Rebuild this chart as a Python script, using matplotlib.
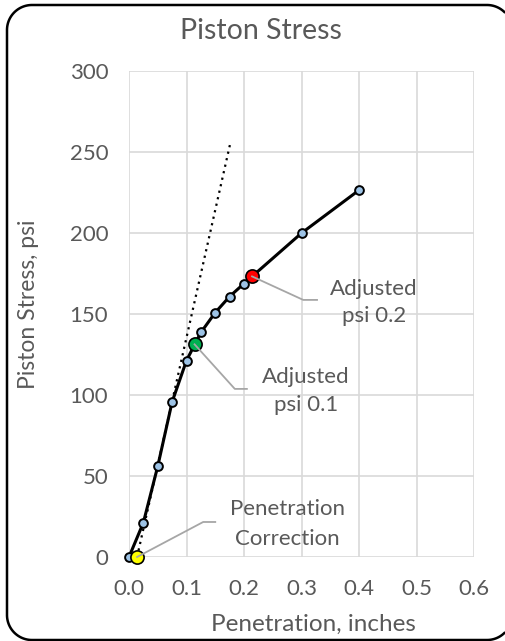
import matplotlib
matplotlib.use("Agg")
import numpy as np
import matplotlib.pyplot as plt
from matplotlib.lines import Line2D

plt.rcParams['font.family'] = ['Lato', 'DejaVu Sans']

# Penetration test readings
penetration = [0.0, 0.025, 0.05, 0.075, 0.1, 0.125, 0.15, 0.175, 0.2, 0.3, 0.4]
stress = [0.0, 21.2, 56.0, 95.7, 121.2, 138.5, 150.8, 160.7, 168.7, 199.8, 226.3]

# Corrected zero and adjusted readings
correction = 0.014
adjusted_x = [0.114, 0.214]
adjusted_y = [131.2, 173.1]

# Tangent line through the steep initial portion
tangent_x = [0.014, 0.176]
tangent_y = [0.0, 255.0]

x_ticks = [0.0, 0.1, 0.2, 0.3, 0.4, 0.5, 0.6]
y_ticks = [0, 50, 100, 150, 200, 250, 300]

TXT = '#595959'
W, H = 505, 641
fig = plt.figure(figsize=(W / 100, H / 100), dpi=100)


def px(x, y):
    """figure pixel (from top-left) -> figure fraction"""
    return x / W, 1 - y / H


def rounded_outline(left, top, right, bottom, r, n=40):
    """points of a rounded rectangle in pixel coords (y down), starting on the right side"""
    pts = []
    corners = [
        (right - r, top + r, 0, -90),       # top-right
        (left + r, top + r, -90, -180),     # top-left
        (left + r, bottom - r, 180, 90),    # bottom-left
        (right - r, bottom - r, 90, 0),     # bottom-right
    ]
    for cx, cy, a0, a1 in corners:
        a = np.radians(np.linspace(a0, a1, n))
        pts.append(np.column_stack([cx + r * np.cos(a), cy + r * np.sin(a)]))
    p = np.vstack(pts)
    return p


# chart border: rounded frame whose right side runs just past the canvas
outline = rounded_outline(7, 5, 512, 640, 25)
keep = outline[outline[:, 0] <= W]
bx = keep[:, 0] / W
by = 1 - keep[:, 1] / H
fig.add_artist(Line2D(bx, by, transform=fig.transFigure, color='black',
                      linewidth=1.8, solid_joinstyle='round'))

ax = fig.add_axes([129 / W, 1 - 557 / H, (474 - 129) / W, (557 - 70.7) / H])
ax.set_xlim(0, 0.6)
ax.set_ylim(0, 300)
ax.set_xticks(x_ticks)
ax.set_yticks(y_ticks)
ax.set_xticklabels([f'{v:.1f}' for v in x_ticks])
ax.set_yticklabels([str(v) for v in y_ticks])
ax.grid(True, color='#d9d9d9', linewidth=1.2)
ax.set_axisbelow(True)
for s in ax.spines.values():
    s.set_visible(False)
ax.tick_params(length=0, labelsize=16, colors=TXT)
ax.tick_params(axis='x', pad=16)
ax.tick_params(axis='y', pad=15)

fig.text(*px(261, 39), 'Piston Stress', ha='center', va='baseline', fontsize=20.5, color=TXT)
fig.text(*px(313, 624), 'Penetration, inches', ha='center', va='center', fontsize=17.5, color=TXT)
fig.text(*px(29, 304), 'Piston Stress, psi', ha='center', va='center', rotation=90,
         fontsize=16.5, color=TXT)

ax.plot(tangent_x, tangent_y, color='black', linestyle=(0, (1, 2)), linewidth=1.6, zorder=3)
ax.plot(penetration, stress, color='black', linewidth=2.2, marker='o', markersize=6.3,
        markerfacecolor='#9dc3e6', markeredgecolor='black', markeredgewidth=1.4,
        zorder=4, clip_on=False)

ax.plot([correction], [0], 'o', markersize=9.5, markerfacecolor='#ffff00',
        markeredgecolor='black', markeredgewidth=1.2, zorder=6, clip_on=False)
ax.plot([adjusted_x[0]], [adjusted_y[0]], 'o', markersize=9.5, markerfacecolor='#00b050',
        markeredgecolor='black', markeredgewidth=1.2, zorder=6)
ax.plot([adjusted_x[1]], [adjusted_y[1]], 'o', markersize=9.5, markerfacecolor='#ff0000',
        markeredgecolor='black', markeredgewidth=1.2, zorder=6)

LEAD = '#a6a6a6'
# leader lines from marker to label
ax.plot([correction, 0.129, 0.150], [0, 21.6, 21.6], color=LEAD, linewidth=1.3, zorder=7, clip_on=False)
ax.plot([adjusted_x[0], 0.184, 0.205], [adjusted_y[0], 103.7, 103.7], color=LEAD, linewidth=1.3, zorder=7)
ax.plot([adjusted_x[1], 0.303, 0.327], [adjusted_y[1], 158.6, 158.6], color=LEAD, linewidth=1.3, zorder=7)

labels = [
    (0.275, 25.9, 'Penetration'), (0.275, 7.4, 'Correction'),
    (0.308, 107.4, 'Adjusted'), (0.308, 90.1, 'psi 0.1'),
    (0.426, 161.7, 'Adjusted'), (0.427, 145.0, 'psi 0.2'),
]
for lx, ly, t in labels:
    ax.text(lx, ly, t, ha='center', va='baseline', fontsize=16, color=TXT, zorder=8)

fig.savefig('out.png', dpi=100)
